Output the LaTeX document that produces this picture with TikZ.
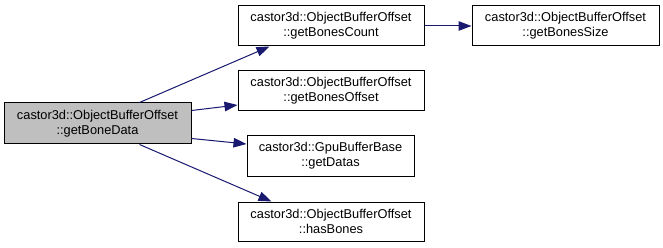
\documentclass[tikz,border=0pt]{standalone}
\usepackage{fontspec}
\setmainfont{Liberation Sans}
\usetikzlibrary{arrows.meta,calc}
\definecolor{edgeblue}{HTML}{191970}
\definecolor{curfill}{HTML}{BFBFBF}
\begin{document}
\begin{tikzpicture}[x=1pt,y=-1pt,
  fn/.style={draw=black,line width=1pt,fill=white,rectangle,inner sep=0pt,
    align=center,font=\fontsize{12.8}{15}\selectfont,minimum height=40pt},
  cur/.style={fn,fill=curfill},
  call/.style={draw=edgeblue,line width=1pt,-{Triangle[length=13pt,width=9.5pt]}}]
\useasboundingbox (0,0) rectangle (663,248);
\fill[white] (0,0) rectangle (663,248);

\node[cur,minimum width=187pt,minimum height=41pt] (main) at (97.5,123.5)
  {castor3d::ObjectBufferOffset\\::getBoneData};
\node[fn,minimum width=186pt] (count) at (331,26)
  {castor3d::ObjectBufferOffset\\::getBonesCount};
\node[fn,minimum width=186pt] (offset) at (331,91)
  {castor3d::ObjectBufferOffset\\::getBonesOffset};
\node[fn,minimum width=167pt] (datas) at (330.5,156)
  {castor3d::GpuBufferBase\\::getDatas};
\node[fn,minimum width=186pt,minimum height=39pt] (has) at (331,221.5)
  {castor3d::ObjectBufferOffset\\::hasBones};
\node[fn,minimum width=187pt] (size) at (565.5,26)
  {castor3d::ObjectBufferOffset\\::getBonesSize};

\draw[call] ($(main.north west)+(136,0)$) -- ($(count.south west)+(32,0)$);
\draw[call] ($(main.east)+(0,-13)$) -- ($(offset.west)+(0,14)$);
\draw[call] ($(main.east)+(0,15)$) -- ($(datas.west)+(0,-12)$);
\draw[call] ($(main.south west)+(136,0)$) -- ($(has.north west)+(34,0)$);
\draw[call] (count.east) -- (size.west);
\end{tikzpicture}
\end{document}
